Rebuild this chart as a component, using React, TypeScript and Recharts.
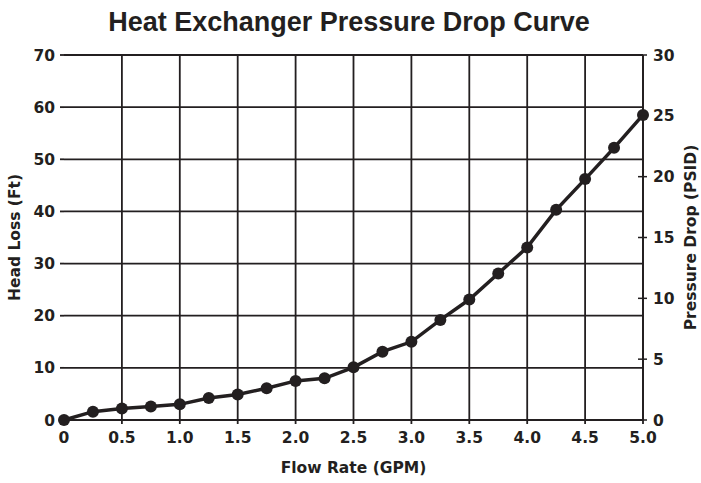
import React from "react";
import { CartesianGrid, Label, Line, LineChart, ReferenceLine, XAxis, YAxis } from "recharts";

// flow rate (GPM) and head loss (ft), one point every 0.25 GPM
const FLOW = [0, 0.25, 0.5, 0.75, 1.0, 1.25, 1.5, 1.75, 2.0, 2.25, 2.5, 2.75, 3.0, 3.25, 3.5, 3.75, 4.0, 4.25, 4.5, 4.75, 5.0];
const HEAD_LOSS = [0, 1.6, 2.2, 2.6, 3.0, 4.2, 4.9, 6.1, 7.5, 8.0, 10.1, 13.1, 15.0, 19.2, 23.1, 28.1, 33.1, 40.3, 46.2, 52.2, 58.5];

const X_TICKS = [0, 0.5, 1.0, 1.5, 2.0, 2.5, 3.0, 3.5, 4.0, 4.5, 5.0];
const X_GRID = [0.5, 1.0, 1.5, 2.0, 2.5, 3.0, 3.5, 4.0, 4.5, 5.0];
const HEAD_TICKS = [0, 10, 20, 30, 40, 50, 60, 70];
const PSID_TICKS = [0, 5, 10, 15, 20, 25, 30];

const INK = "#231f20";
const TICK_FONT = "'DejaVu Sans', sans-serif";

const data = FLOW.map((flow, i) => ({ flow, head: HEAD_LOSS[i] }));

const fmtX = (v: number) => (v === 0 ? "0" : v.toFixed(1));

function RightTick(props: any) {
  const { x, y, payload } = props;
  const axisX = x - 10;
  return (
    <g>
      <line x1={axisX - 5} x2={axisX + 4} y1={y} y2={y} stroke={INK} strokeWidth={1.5} />
      <text x={x} y={y} dy="0.36em" textAnchor="start" fill={INK} fontFamily={TICK_FONT} fontWeight="bold" fontSize={15.5}>
        {payload.value}
      </text>
    </g>
  );
}

function SideLabel({ viewBox, value, cx }: any) {
  const cy = viewBox.y + viewBox.height / 2;
  return (
    <text
      x={cx}
      y={cy}
      transform={`rotate(-90, ${cx}, ${cy})`}
      textAnchor="middle"
      fill={INK}
      fontFamily={TICK_FONT}
      fontWeight="bold"
      fontSize={15.5}
    >
      {value}
    </text>
  );
}

export default function App() {
  const tickStyle = { fill: INK, fontFamily: TICK_FONT, fontWeight: "bold", fontSize: 15.5 } as any;
  return (
    <div style={{ position: "absolute", left: 0, top: 0, width: 701, height: 483, background: "#fff" }}>
      <div
        style={{
          position: "absolute",
          top: 9,
          left: 0,
          width: 698,
          textAlign: "center",
          fontFamily: "'Liberation Sans', Arial, sans-serif",
          fontWeight: "bold",
          fontSize: 27,
          lineHeight: "27px",
          color: INK
        }}
      >
        Heat Exchanger Pressure Drop Curve
      </div>
      <LineChart width={701} height={483} data={data} margin={{ top: 55, right: 18, bottom: 33, left: 24 }}>
        <CartesianGrid vertical={false} stroke={INK} strokeWidth={1.8} />
        {X_GRID.map((v) => (
          <ReferenceLine key={v} x={v} stroke={INK} strokeWidth={1.8} />
        ))}
        <XAxis
          dataKey="flow"
          type="number"
          domain={[0, 5]}
          ticks={X_TICKS}
          tickFormatter={fmtX}
          height={30}
          axisLine={{ stroke: INK, strokeWidth: 1.8 }}
          tickLine={{ stroke: INK, strokeWidth: 1.8 }}
          tickSize={4}
          tickMargin={8}
          tick={tickStyle}
        >
          <Label
            content={({ viewBox }: any) => (
              <text
                x={viewBox.x + viewBox.width / 2}
                y={473}
                textAnchor="middle"
                fill={INK}
                fontFamily={TICK_FONT}
                fontWeight="bold"
                fontSize={15.5}
              >
                Flow Rate (GPM)
              </text>
            )}
          />
        </XAxis>
        <YAxis
          type="number"
          domain={[0, 70]}
          ticks={HEAD_TICKS}
          width={40}
          axisLine={false}
          tickLine={{ stroke: INK, strokeWidth: 1.8 }}
          tickSize={4}
          tickMargin={5}
          tick={tickStyle}
        >
          <Label content={(p: any) => <SideLabel {...p} value="Head Loss (Ft)" cx={20} />} />
        </YAxis>
        <YAxis
          yAxisId="right"
          orientation="right"
          type="number"
          domain={[0, 30]}
          allowDataOverflow
          ticks={PSID_TICKS}
          width={40}
          axisLine={{ stroke: INK, strokeWidth: 1.8 }}
          tickLine={false}
          tickSize={4}
          tickMargin={6}
          tick={(p: any) => <RightTick {...p} />}
        >
          <Label content={(p: any) => <SideLabel {...p} value="Pressure Drop (PSID)" cx={696} />} />
        </YAxis>
        {/* empty series so the PSID axis has something bound to it */}
        <Line yAxisId="right" dataKey="psid" stroke="none" dot={false} activeDot={false} isAnimationActive={false} />
        <Line
          dataKey="head"
          stroke={INK}
          strokeWidth={3.5}
          dot={{ r: 6, fill: INK, stroke: INK, strokeWidth: 0 }}
          isAnimationActive={false}
        />
      </LineChart>
    </div>
  );
}
